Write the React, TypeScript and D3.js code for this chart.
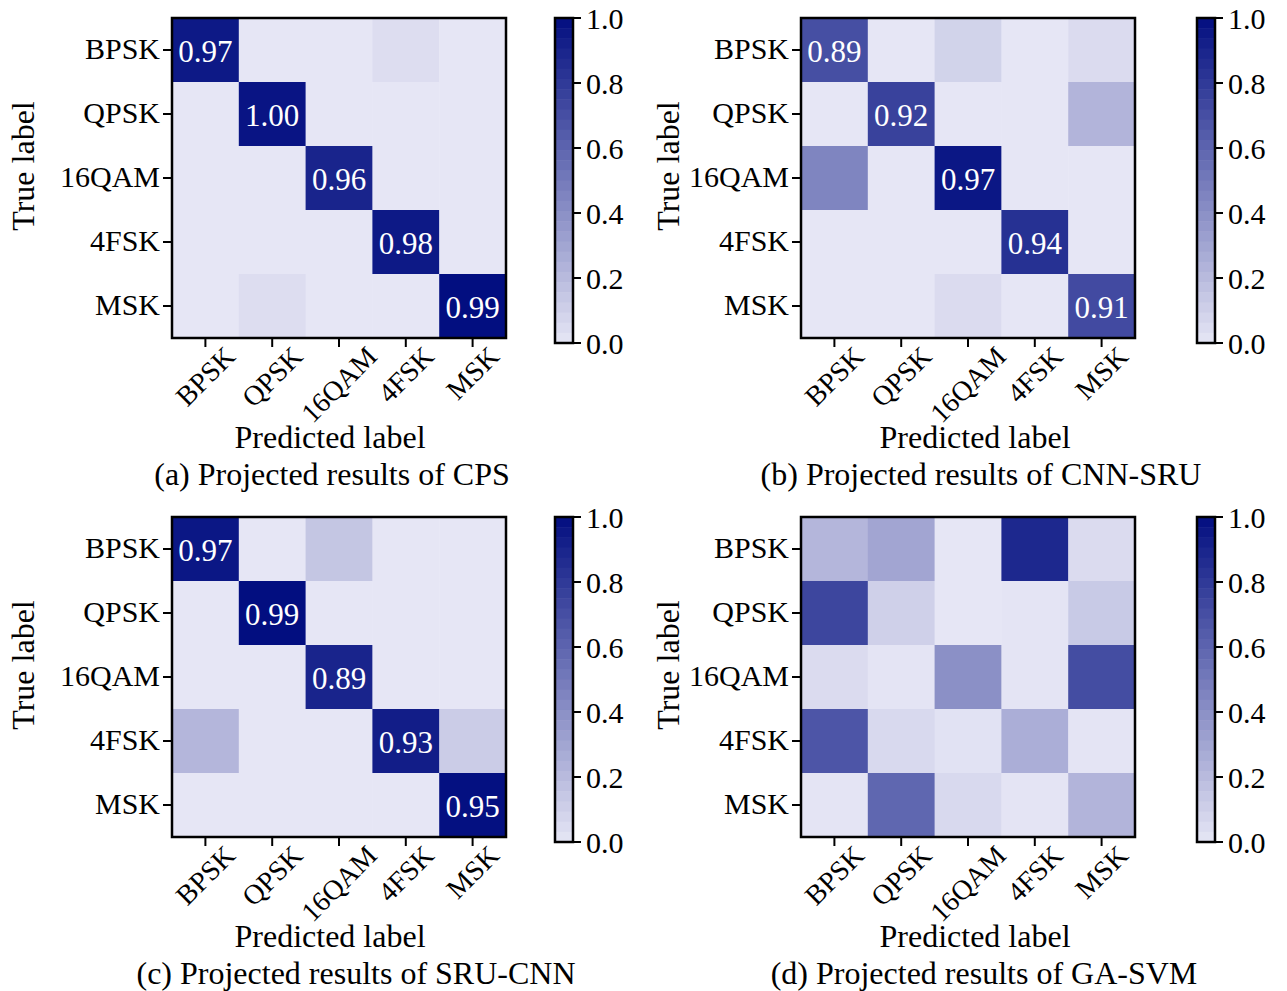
import React from "react";
import * as d3 from "d3";

const classes = ["BPSK", "QPSK", "16QAM", "4FSK", "MSK"];
const cbTicks = [0, 0.2, 0.4, 0.6, 0.8, 1.0];

// colour intensity of each cell (row = true label, col = predicted label)
const cpsColor = [
  [0.95, 0.0, 0.0, 0.04, 0.0],
  [0.0, 0.97, 0.0, 0.0, 0.0],
  [0.0, 0.0, 0.9, 0.0, 0.0],
  [0.0, 0.0, 0.0, 0.95, 0.0],
  [0.0, 0.04, 0.0, 0.0, 1.0],
];
const cpsText = ["0.97", "1.00", "0.96", "0.98", "0.99"];

const cnnSruColor = [
  [0.7, 0.0, 0.09, 0.0, 0.05],
  [0.0, 0.76, 0.0, 0.0, 0.23],
  [0.45, 0.0, 0.96, 0.0, 0.0],
  [0.0, 0.0, 0.0, 0.84, 0.0],
  [0.0, 0.0, 0.05, 0.0, 0.72],
];
const cnnSruText = ["0.89", "0.92", "0.97", "0.94", "0.91"];

const sruCnnColor = [
  [0.96, 0.0, 0.15, 0.0, 0.0],
  [0.0, 1.0, 0.0, 0.0, 0.0],
  [0.0, 0.0, 0.9, 0.0, 0.0],
  [0.22, 0.0, 0.0, 0.93, 0.12],
  [0.0, 0.0, 0.0, 0.0, 0.99],
];
const sruCnnText = ["0.97", "0.99", "0.89", "0.93", "0.95"];

const gaSvmColor = [
  [0.22, 0.3, 0.0, 0.88, 0.05],
  [0.74, 0.1, 0.0, 0.01, 0.13],
  [0.05, 0.01, 0.4, 0.01, 0.71],
  [0.67, 0.06, 0.02, 0.26, 0.01],
  [0.01, 0.59, 0.06, 0.01, 0.23],
];
const gaSvmText: string[] = [];

const panelTitles = [
  "(a) Projected results of CPS",
  "(b) Projected results of CNN-SRU",
  "(c) Projected results of SRU-CNN",
  "(d) Projected results of GA-SVM",
];

const FONT = "'Liberation Serif', 'Times New Roman', serif";
const TICK_FS = 28;
const colorOf = (v: number) =>
  d3.interpolateRgb("rgb(230,230,245)", "rgb(2,14,128)")(Math.max(0, Math.min(1, v)));

let measureCtx: CanvasRenderingContext2D | null = null;
function textWidth(s: string, fs: number): number {
  if (!measureCtx) {
    const c = document.createElement("canvas");
    measureCtx = c.getContext("2d");
  }
  if (!measureCtx) return s.length * fs * 0.6;
  measureCtx.font = `${fs}px "Liberation Serif"`;
  return measureCtx.measureText(s).width;
}

interface PanelProps {
  ox: number;
  oy: number;
  cbOff: number;
  ylabOff: number;
  xlabX: number;
  titleX: number;
  colors: number[][];
  texts: string[];
  title: string;
}

function Panel({ ox, oy, cbOff, ylabOff, xlabX, titleX, colors, texts, title }: PanelProps) {
  const mx0 = ox, mx1 = ox + 334;
  const my0 = oy, my1 = oy + 320;
  const x = d3.scaleBand<string>().domain(classes).range([mx0, mx1]);
  const y = d3.scaleBand<string>().domain(classes).range([my0, my1]);
  const cbx0 = ox + cbOff, cbw = 18;
  const cy = d3.scaleLinear().domain([0, 1]).range([oy + 325, oy]);
  const bands = d3.range(32);
  const bandH = (cy(0) - cy(1)) / bands.length;
  const capH = TICK_FS * 0.66;

  return (
    <g>
      {colors.map((row, i) =>
        row.map((v, j) => (
          <rect
            key={`c${i}-${j}`}
            x={x(classes[j])!}
            y={y(classes[i])!}
            width={x.bandwidth() + 0.5}
            height={y.bandwidth() + 0.5}
            fill={colorOf(v)}
          />
        ))
      )}
      {texts.map((t, i) => (
        <text
          key={`t${i}`}
          x={x(classes[i])! + x.bandwidth() / 2}
          y={y(classes[i])! + y.bandwidth() / 2 + 1}
          fill="#fff"
          fontSize={31}
          textAnchor="middle"
          dominantBaseline="central"
          fontFamily={FONT}
        >
          {t}
        </text>
      ))}
      <rect x={mx0} y={my0} width={mx1 - mx0} height={my1 - my0} fill="none" stroke="#000" strokeWidth={2.5} />
      {/* y ticks */}
      {classes.map((c) => {
        const yy = y(c)! + y.bandwidth() / 2;
        return (
          <g key={`yt${c}`}>
            <line x1={mx0 - 9} x2={mx0} y1={yy} y2={yy} stroke="#000" strokeWidth={2} />
            <text x={mx0 - 12} y={yy - 2} textAnchor="end" dominantBaseline="central" fontSize={30} fontFamily={FONT}>
              {c}
            </text>
          </g>
        );
      })}
      {/* x ticks: rotated labels whose bounding box is centred under the tick */}
      {classes.map((c) => {
        const xx = x(c)! + x.bandwidth() / 2;
        const L = textWidth(c, TICK_FS);
        const bboxH = (L + capH) * Math.SQRT1_2;
        return (
          <g key={`xt${c}`}>
            <line x1={xx} x2={xx} y1={my1} y2={my1 + 9} stroke="#000" strokeWidth={2} />
            <text
              transform={`translate(${xx},${my1 + 7 + bboxH / 2}) rotate(-45)`}
              textAnchor="middle"
              dominantBaseline="central"
              fontSize={TICK_FS}
              fontFamily={FONT}
            >
              {c}
            </text>
          </g>
        );
      })}
      <text
        transform={`translate(${ox + ylabOff},${oy + 148}) rotate(-90)`}
        textAnchor="middle"
        dominantBaseline="central"
        fontSize={32}
        fontFamily={FONT}
      >
        True label
      </text>
      <text x={ox + xlabX} y={oy + 430} textAnchor="middle" fontSize={32} fontFamily={FONT}>
        Predicted label
      </text>
      <text x={ox + titleX} y={oy + 467} textAnchor="middle" fontSize={32} fontFamily={FONT}>
        {title}
      </text>
      {/* colorbar */}
      {bands.map((b) => (
        <rect
          key={`b${b}`}
          x={cbx0}
          y={cy(1) + b * bandH}
          width={cbw}
          height={bandH + 0.6}
          fill={colorOf(1 - (b + 0.5) / bands.length)}
        />
      ))}
      <rect x={cbx0} y={cy(1)} width={cbw} height={cy(0) - cy(1)} fill="none" stroke="#000" strokeWidth={2.5} />
      {cbTicks.map((t) => (
        <g key={`cb${t}`}>
          <line x1={cbx0 + cbw} x2={cbx0 + cbw + 8} y1={cy(t)} y2={cy(t)} stroke="#000" strokeWidth={2} />
          <text x={cbx0 + cbw + 13} y={cy(t)} dominantBaseline="central" fontSize={30} fontFamily={FONT}>
            {t.toFixed(1)}
          </text>
        </g>
      ))}
    </g>
  );
}

export default function App() {
  return (
    <svg width={1287} height={991} style={{ display: "block", position: "absolute", left: 0, top: 0, background: "#fff" }}>
      <rect width={1287} height={991} fill="#fff" />
      <Panel ox={172} oy={18} cbOff={383} ylabOff={-149} xlabX={158} titleX={160}
        colors={cpsColor} texts={cpsText} title={panelTitles[0]} />
      <Panel ox={801} oy={18} cbOff={396} ylabOff={-133} xlabX={174} titleX={180}
        colors={cnnSruColor} texts={cnnSruText} title={panelTitles[1]} />
      <Panel ox={172} oy={517} cbOff={383} ylabOff={-149} xlabX={158} titleX={184}
        colors={sruCnnColor} texts={sruCnnText} title={panelTitles[2]} />
      <Panel ox={801} oy={517} cbOff={396} ylabOff={-133} xlabX={174} titleX={183}
        colors={gaSvmColor} texts={gaSvmText} title={panelTitles[3]} />
    </svg>
  );
}
